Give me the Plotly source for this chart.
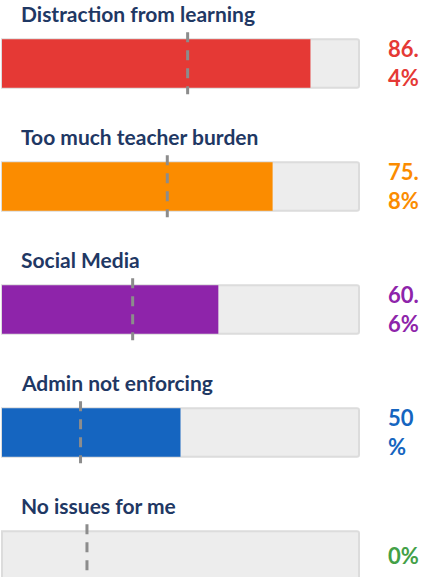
import plotly.graph_objects as go

categories = ["Distraction from learning", "Too much teacher burden", "Social Media",
              "Admin not enforcing", "No issues for me"]
values = [86.4, 75.8, 60.6, 50, 0]
benchmarks = [52, 46.3, 36.6, 22, 23.8]
label_lines = [["86.", "4%"], ["75.", "8%"], ["60.", "6%"], ["50", "%"], ["0%"]]
colors = ["#E53935", "#FB8C00", "#8E24AA", "#1565C0", "#43A047"]

W, H = 432, 577
x0_px, px_per = 2.0, 3.57
y0_px, row_px = 63.5, 123.0

pos = list(range(len(categories)))
fig = go.Figure()

fig.add_trace(go.Bar(
    x=[100] * len(categories), y=pos, orientation="h", width=0.395,
    marker=dict(color="#EDEDED", line=dict(color="#DCDCDC", width=2), cornerradius=2),
    hoverinfo="skip", showlegend=False,
))
fig.add_trace(go.Bar(
    x=values, y=pos, orientation="h", width=0.395,
    marker=dict(color=colors, line=dict(width=0), cornerradius=2),
    showlegend=False,
))
for i, b in enumerate(benchmarks):
    fig.add_trace(go.Scatter(
        x=[b, b], y=[i - 0.255, i + 0.25], mode="lines",
        line=dict(color="#8C8C8C", width=3, dash="10px,8px"),
        showlegend=False, hoverinfo="skip",
    ))

annotations = []
for i, cat in enumerate(categories):
    annotations.append(dict(
        x=4.8, y=i - 0.41, text=cat, showarrow=False, xanchor="left", yanchor="middle",
        font=dict(family="Lato", size=21, color="#1F3864", weight="bold"),
    ))
    lines = label_lines[i]
    offs = [-0.125, 0.115] if len(lines) == 2 else [0.0]
    for ln, off in zip(lines, offs):
        annotations.append(dict(
            x=107.6, y=i + off, text=ln, showarrow=False, xanchor="left", yanchor="middle",
            font=dict(family="Lato", size=22, color=colors[i], weight="bold"),
        ))

fig.update_layout(
    width=W, height=H, margin=dict(l=0, r=0, t=0, b=0),
    paper_bgcolor="white", plot_bgcolor="white",
    barmode="overlay",
    xaxis=dict(range=[-x0_px / px_per, (W - x0_px) / px_per], visible=False, fixedrange=True),
    yaxis=dict(range=[(H - y0_px) / row_px, -y0_px / row_px], visible=False, fixedrange=True),
    annotations=annotations,
)

fig.write_html("out.html", config={"displayModeBar": False},
               post_script="document.body.style.margin='0';document.body.style.overflow='hidden';")
